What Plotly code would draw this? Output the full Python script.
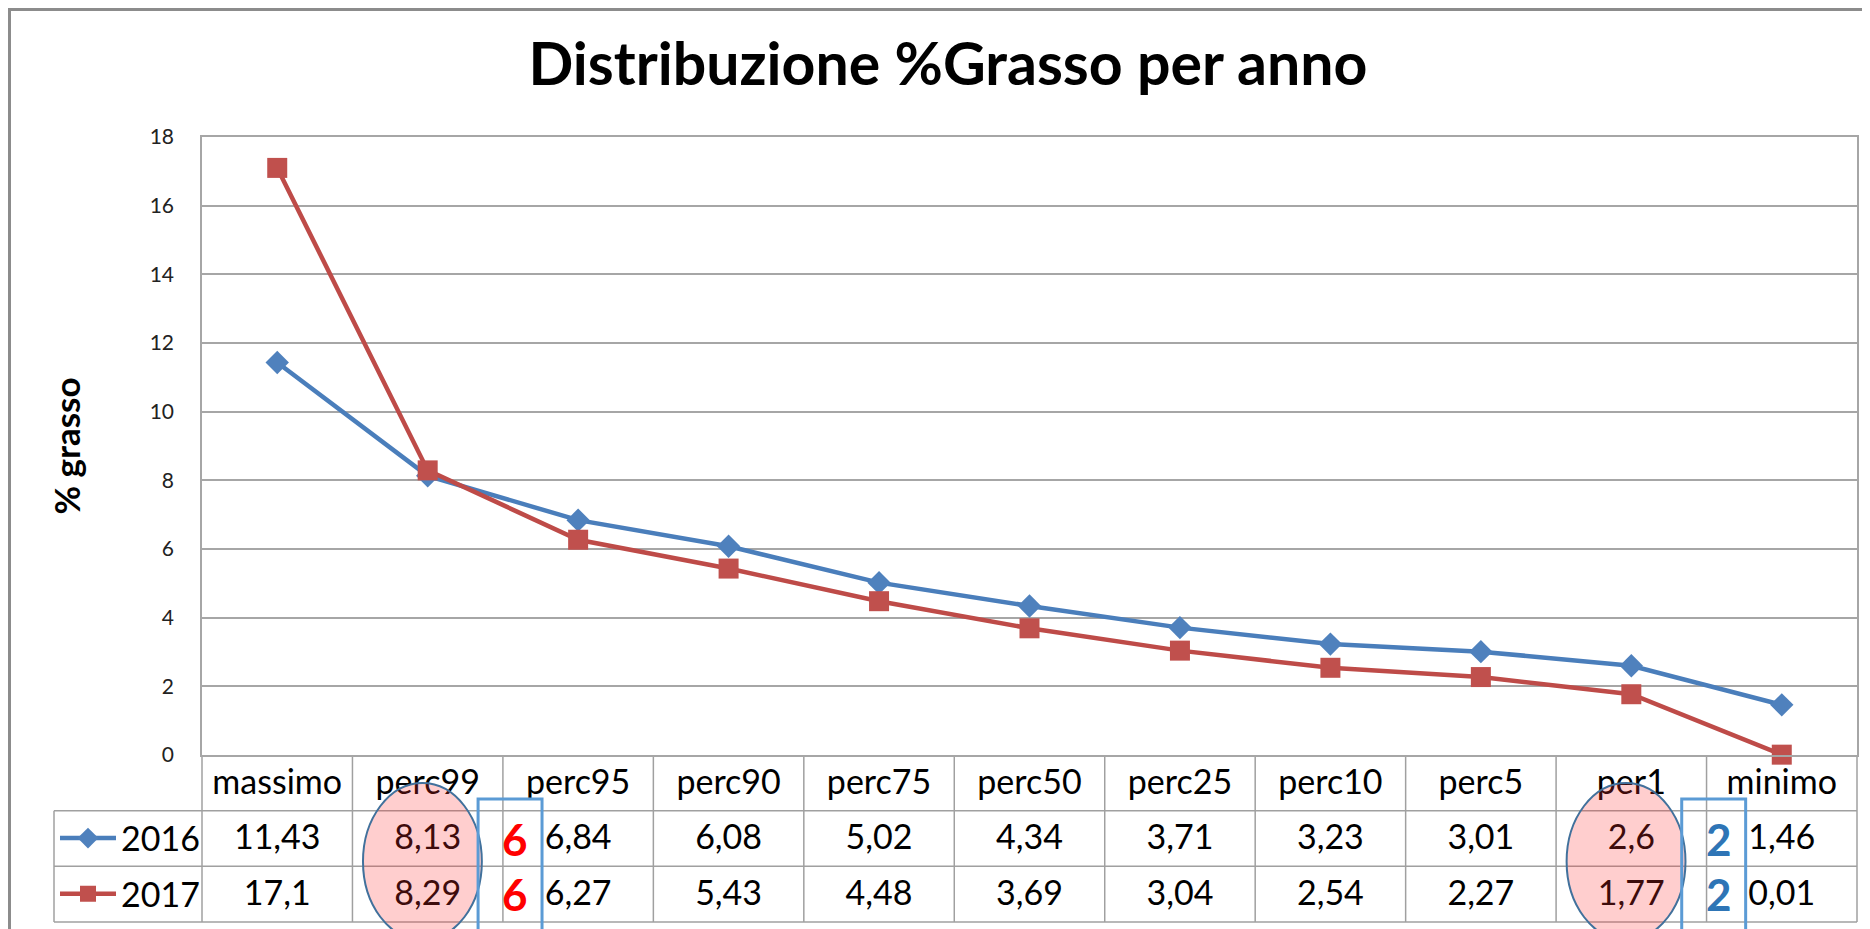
import plotly.graph_objects as go

# ---------------- data ----------------
categories = ["massimo", "perc99", "perc95", "perc90", "perc75", "perc50",
              "perc25", "perc10", "perc5", "per1", "minimo"]
years = ["2016", "2017"]
values_2016 = [11.43, 8.13, 6.84, 6.08, 5.02, 4.34, 3.71, 3.23, 3.01, 2.6, 1.46]
values_2017 = [17.1, 8.29, 6.27, 5.43, 4.48, 3.69, 3.04, 2.54, 2.27, 1.77, 0.01]
y_ticks = [0, 2, 4, 6, 8, 10, 12, 14, 16, 18]
highlight_cols = [1, 9]          # perc99, per1 (circled columns)
rounded_labels = ["6", "2"]      # hand-written rounded values beside them
rounded_colors = ["#FF0000", "#2E75B6"]

# ---------------- geometry (screen pixels; page body has an 8px margin) ----
OFF = 8
SW, SH = 1870, 929
W, H = SW - OFF, SH - OFF           # figure size
L, R, T = 202, 1857, 137            # plot area (screen px)
Y0PIX = 755                          # screen pixel of y = 0
TBL_BOT = 922                        # table bottom line
ROW_HDR_LEFT = 54
RH = (TBL_BOT - Y0PIX) / 3.0         # table row height

ML, MR, MT = L - OFF, SW - R, T - OFF
PH = H - MT                          # paper height (bottom margin 0)
PW = W - ML - MR


def py(spix):
    return (H - (spix - OFF)) / PH


def px(spix):
    return (spix - OFF - ML) / PW


y_dom0 = py(Y0PIX)
y2_low = 2.5 - (SH - Y0PIX) / RH

FONT = "Lato, 'Open Sans', sans-serif"
BLUE_LINE, BLUE_MK = "#4A7EBB", "#4F81BD"
RED_LINE, RED_MK = "#BE4B48", "#C0504D"
GRID = "#a6a6a6"


def fmt(v):
    return f"{v:g}".replace(".", ",")


x_idx = list(range(len(categories)))

fig = go.Figure()

fig.add_trace(go.Scatter(
    x=x_idx, y=values_2016, name=years[0], mode="lines+markers",
    line=dict(color=BLUE_LINE, width=4.5),
    marker=dict(symbol="diamond", size=18, color=BLUE_MK),
    legend="legend", cliponaxis=False,
))
fig.add_trace(go.Scatter(
    x=x_idx, y=values_2017, name=years[1], mode="lines+markers",
    line=dict(color=RED_LINE, width=4.5),
    marker=dict(symbol="square", size=20, color=RED_MK),
    legend="legend2", cliponaxis=False,
))

# data table below the chart (header row = 2, 2016 = 1, 2017 = 0)
tx = x_idx * 3
ty = [2] * len(categories) + [1] * len(categories) + [0] * len(categories)
tt = categories + [fmt(v) for v in values_2016] + [fmt(v) for v in values_2017]
fig.add_trace(go.Scatter(
    x=tx, y=[v - 0.04 for v in ty], text=tt, mode="text", yaxis="y2",
    textfont=dict(family=FONT, size=34, color="#000000"),
    textposition="middle center", hoverinfo="skip", showlegend=False,
))

shapes = []
line_style = dict(color="#a0a0a0", width=1.5)
n = len(categories)
# vertical table lines
for k in range(n + 1):
    shapes.append(dict(type="line", xref="paper", yref="paper",
                       x0=k / n, x1=k / n, y0=py(Y0PIX), y1=py(TBL_BOT),
                       line=line_style, layer="below"))
# horizontal table lines (rows)
for r in range(1, 4):
    yy = py(Y0PIX + r * RH)
    shapes.append(dict(type="line", xref="paper", yref="paper",
                       x0=px(ROW_HDR_LEFT), x1=1, y0=yy, y1=yy,
                       line=line_style, layer="below"))
# row-header left border
shapes.append(dict(type="line", xref="paper", yref="paper",
                   x0=px(ROW_HDR_LEFT), x1=px(ROW_HDR_LEFT),
                   y0=py(Y0PIX + RH), y1=py(TBL_BOT),
                   line=line_style, layer="below"))
# outer chart border
shapes.append(dict(type="rect", xref="paper", yref="paper",
                   x0=px(9.5), x1=px(1900), y0=py(1000), y1=py(9.5),
                   line=dict(color="#8c8c8c", width=3), layer="below"))

# highlight ellipses and boxes
for c in highlight_cols:
    shapes.append(dict(type="circle", xref="x", yref="paper",
                       x0=c - 0.43, x1=c + 0.36, y0=py(940), y1=py(783),
                       fillcolor="rgba(255,50,50,0.24)",
                       line=dict(color="#41719C", width=2), layer="above"))
    shapes.append(dict(type="rect", xref="x", yref="paper",
                       x0=c + 0.335, x1=c + 0.76, y0=py(960), y1=py(799),
                       line=dict(color="#5B9BD5", width=3), layer="above"))

annotations = []
for c, lab, col in zip(highlight_cols, rounded_labels, rounded_colors):
    for row in (1, 0):
        annotations.append(dict(
            x=c + 0.58, y=row, xref="x", yref="y2", text=f"<b>{lab}</b>",
            showarrow=False, font=dict(family=FONT, size=44, color=col),
            xanchor="center", yanchor="middle"))

leg_common = dict(xanchor="left", yanchor="middle", bgcolor="rgba(0,0,0,0)",
                  borderwidth=0, itemwidth=56,
                  font=dict(family=FONT, size=34, color="#000000"))

fig.update_layout(
    width=W, height=H,
    margin=dict(l=ML, r=MR, t=MT, b=0, autoexpand=False),
    paper_bgcolor="white", plot_bgcolor="white",
    title=dict(text="<b>Distribuzione %Grasso per anno</b>",
               font=dict(family=FONT, size=59, color="#000000"),
               x=(948 - OFF) / W, xref="container", xanchor="center",
               y=1 - (64 - OFF) / H, yref="container", yanchor="middle"),
    xaxis=dict(range=[-0.5, n - 0.5], showticklabels=False, showgrid=False,
               zeroline=False, showline=True, linecolor=GRID, linewidth=1.5,
               mirror=True, ticks="", anchor="y", automargin=False),
    yaxis=dict(domain=[y_dom0, 1], range=[0, 18], tickvals=y_ticks,
               showgrid=True, gridcolor=GRID, gridwidth=1.5, zeroline=False,
               showline=True, linecolor=GRID, linewidth=1.5, mirror=True,
               ticks="", ticklabelstandoff=22, automargin=False,
               tickfont=dict(family=FONT, size=21, color="#222222"),
               title=dict(text="<b>% grasso</b>", standoff=58,
                          font=dict(family=FONT, size=35, color="#000000"))),
    yaxis2=dict(domain=[0, y_dom0], range=[y2_low, 2.5], visible=False,
                anchor="x"),
    legend=dict(x=px(55), y=py(Y0PIX + 1.5 * RH), **leg_common),
    legend2=dict(x=px(55), y=py(Y0PIX + 2.5 * RH), **leg_common),
    shapes=shapes,
    annotations=annotations,
)

fig.write_html("out.html")
